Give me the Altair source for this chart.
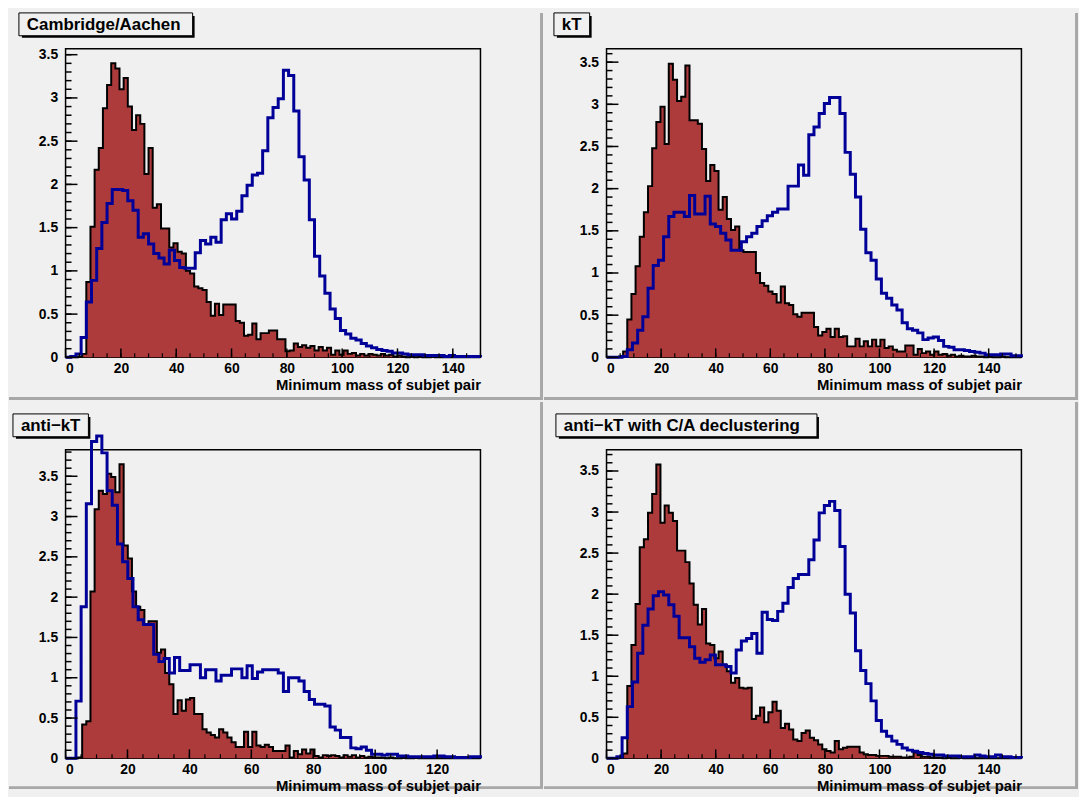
import altair as alt
import pandas as pd

# ---------------- data ----------------
titles = ["Cambridge/Aachen", "kT", "anti\u2212kT", "anti\u2212kT with C/A declustering"]
x_title = "Minimum mass of subjet pair"
x_max = [150, 152, 134, 152]
y_max = [3.57, 3.66, 3.83, 3.76]
x_major = [[0, 20, 40, 60, 80, 100, 120, 140],
           [0, 20, 40, 60, 80, 100, 120, 140],
           [0, 20, 40, 60, 80, 100, 120],
           [0, 20, 40, 60, 80, 100, 120, 140]]
y_major = [0, 0.5, 1, 1.5, 2, 2.5, 3, 3.5]

# background (red, 100 bins) and signal (blue, 80 bins) per panel
bkg_ca = [0, 0, 0, 0.01, 0.04, 0.87, 1.51, 2.17, 2.42, 2.88,
          3.15, 3.40, 3.34, 3.10, 3.23, 2.90, 2.63, 2.80, 2.70, 2.12,
          2.42, 1.73, 1.77, 1.49, 1.49, 1.27, 1.32, 1.22, 1.20, 1.00,
          0.97, 0.82, 0.80, 0.78, 0.64, 0.48, 0.62, 0.49, 0.61, 0.61,
          0.61, 0.42, 0.40, 0.25, 0.26, 0.39, 0.21, 0.28, 0.28, 0.31,
          0.31, 0.21, 0.21, 0.07, 0.08, 0.16, 0.12, 0.14, 0.11, 0.13,
          0.08, 0.12, 0.08, 0.11, 0.03, 0.08, 0.03, 0.08, 0.04, 0.05,
          0.02, 0.04, 0.02, 0.04, 0.03, 0.02, 0.04, 0.02, 0.03, 0.01,
          0.02, 0.01, 0, 0.01, 0, 0.01, 0, 0, 0.01, 0,
          0, 0, 0, 0, 0, 0, 0, 0, 0, 0]
sig_ca = [0, 0.01, 0.04, 0.23, 0.64, 0.89, 1.26, 1.56, 1.78, 1.94,
          1.94, 1.93, 1.81, 1.70, 1.39, 1.43, 1.31, 1.20, 1.15, 1.08,
          1.24, 1.12, 1.04, 1.03, 1.03, 1.21, 1.35, 1.31, 1.39, 1.33,
          1.59, 1.66, 1.60, 1.69, 1.87, 1.99, 2.11, 2.13, 2.39, 2.77,
          2.89, 2.99, 3.32, 3.26, 2.85, 2.32, 2.05, 1.59, 1.17, 0.94,
          0.74, 0.56, 0.45, 0.31, 0.27, 0.22, 0.20, 0.16, 0.13, 0.11,
          0.09, 0.08, 0.07, 0.05, 0.05, 0.04, 0.03, 0.03, 0.03, 0.02,
          0.02, 0.02, 0.02, 0.01, 0.02, 0.01, 0.01, 0.01, 0.01, 0.01]

bkg_kt = [0, 0, 0, 0.01, 0.07, 0.45, 0.75, 1.08, 1.43, 1.72,
          2.03, 2.48, 2.79, 2.97, 2.53, 3.48, 3.29, 3.04, 3.09, 3.46,
          2.81, 2.81, 2.77, 2.47, 2.09, 2.28, 2.21, 1.75, 1.90, 1.64,
          1.51, 1.55, 1.27, 1.25, 1.25, 1.25, 1.00, 0.88, 0.85, 0.78,
          0.75, 0.65, 0.84, 0.64, 0.62, 0.51, 0.48, 0.53, 0.53, 0.53,
          0.36, 0.26, 0.30, 0.34, 0.24, 0.34, 0.24, 0.25, 0.13, 0.13,
          0.22, 0.13, 0.19, 0.13, 0.21, 0.13, 0.21, 0.11, 0.13, 0.09,
          0.07, 0.07, 0.14, 0.14, 0.03, 0.10, 0.05, 0.07, 0.03, 0.07,
          0.03, 0.04, 0.02, 0.03, 0.01, 0.02, 0.01, 0.01, 0.02, 0.01,
          0.01, 0, 0.01, 0, 0, 0.01, 0, 0, 0, 0]
sig_kt = [0, 0, 0, 0.01, 0.09, 0.17, 0.32, 0.48, 0.82, 1.09,
          1.15, 1.43, 1.67, 1.72, 1.72, 1.67, 1.92, 1.70, 1.70, 1.91,
          1.58, 1.55, 1.47, 1.39, 1.27, 1.27, 1.37, 1.43, 1.47, 1.55,
          1.62, 1.68, 1.72, 1.76, 1.76, 2.03, 2.03, 2.28, 2.16, 2.64,
          2.73, 2.89, 3.01, 3.08, 3.08, 2.89, 2.43, 2.17, 1.90, 1.52,
          1.24, 1.15, 0.93, 0.76, 0.70, 0.62, 0.56, 0.41, 0.34, 0.32,
          0.29, 0.21, 0.23, 0.24, 0.20, 0.13, 0.12, 0.09, 0.09, 0.08,
          0.07, 0.06, 0.05, 0.03, 0.03, 0.03, 0.04, 0.04, 0.02, 0.02]

bkg_akt = [0, 0, 0, 0.01, 0.42, 0.46, 2.07, 3.09, 3.32, 3.28,
           3.53, 3.49, 3.30, 3.65, 2.64, 2.48, 2.07, 1.88, 1.84, 1.66,
           1.70, 1.70, 1.31, 1.35, 1.06, 0.92, 0.55, 0.72, 0.59, 0.73,
           0.75, 0.55, 0.55, 0.36, 0.32, 0.29, 0.26, 0.36, 0.32, 0.26,
           0.20, 0.14, 0.14, 0.33, 0.14, 0.33, 0.16, 0.14, 0.17, 0.14,
           0.09, 0.09, 0.09, 0.16, 0.01, 0.09, 0.05, 0.11, 0.06, 0.11,
           0.03, 0.01, 0.04, 0.03, 0.04, 0.03, 0.01, 0.04, 0.02, 0.04,
           0.01, 0.03, 0.01, 0.02, 0.01, 0.01, 0.01, 0, 0.01, 0,
           0, 0.01, 0, 0, 0.01, 0, 0, 0, 0, 0,
           0, 0, 0, 0, 0, 0, 0, 0, 0, 0]
sig_akt = [0, 0, 0.71, 1.88, 3.16, 3.93, 4.00, 3.79, 3.32, 3.14,
           2.66, 2.44, 2.23, 1.88, 1.72, 1.66, 1.66, 1.29, 1.20, 1.24,
           1.06, 1.25, 1.09, 1.09, 1.16, 1.16, 1.00, 1.10, 1.10, 0.96,
           1.03, 1.03, 1.11, 1.11, 1.00, 1.15, 0.99, 1.07, 1.10, 1.10,
           1.10, 1.06, 0.83, 1.00, 1.00, 0.96, 0.83, 0.73, 0.67, 0.67,
           0.65, 0.39, 0.35, 0.26, 0.26, 0.13, 0.12, 0.14, 0.10, 0.05,
           0.05, 0.04, 0.05, 0.05, 0.03, 0.03, 0.02, 0.02, 0.02, 0.02,
           0.02, 0.03, 0.03, 0.02, 0.02, 0.01, 0.01, 0.01, 0.02, 0.02]

bkg_akt_ca = [0, 0, 0, 0.01, 0.06, 0.88, 1.38, 1.88, 2.57, 2.67,
              2.99, 3.22, 3.58, 2.87, 3.08, 2.99, 2.89, 2.53, 2.53, 2.39,
              2.13, 1.87, 1.63, 1.82, 1.40, 1.38, 1.22, 1.30, 1.14, 1.06,
              0.92, 0.98, 0.86, 0.85, 0.86, 0.48, 0.52, 0.62, 0.44, 0.56,
              0.69, 0.58, 0.37, 0.42, 0.35, 0.23, 0.21, 0.31, 0.34, 0.25,
              0.22, 0.17, 0.11, 0.09, 0.07, 0.21, 0.11, 0.13, 0.14, 0.14,
              0.14, 0.07, 0.05, 0.04, 0.04, 0.03, 0.03, 0.03, 0.02, 0.02,
              0.02, 0.01, 0.01, 0.02, 0.07, 0.04, 0.02, 0.02, 0.01, 0.01,
              0.01, 0, 0.01, 0, 0, 0.01, 0, 0, 0, 0,
              0, 0, 0, 0, 0, 0, 0, 0, 0, 0]
sig_akt_ca = [0, 0, 0.02, 0.25, 0.63, 0.93, 1.28, 1.62, 1.82, 1.98,
              2.03, 1.99, 1.87, 1.73, 1.47, 1.47, 1.36, 1.22, 1.17, 1.20,
              1.26, 1.14, 1.14, 1.12, 1.04, 1.32, 1.43, 1.46, 1.52, 1.28,
              1.78, 1.69, 1.68, 1.79, 1.89, 2.08, 2.19, 2.24, 2.24, 2.42,
              2.66, 2.99, 3.08, 3.13, 3.02, 2.58, 2.00, 1.77, 1.31, 1.07,
              0.91, 0.70, 0.46, 0.33, 0.27, 0.21, 0.17, 0.125, 0.10, 0.085,
              0.07, 0.06, 0.05, 0.04, 0.04, 0.03, 0.03, 0.03, 0.02, 0.02,
              0.02, 0.04, 0.03, 0.02, 0.02, 0.04, 0.02, 0.02, 0.01, 0.01]

bkg_all = [bkg_ca, bkg_kt, bkg_akt, bkg_akt_ca]
sig_all = [sig_ca, sig_kt, sig_akt, sig_akt_ca]

# ---------------- styling ----------------
BG = "#f0f0f0"
RED = "#ae3b3b"
BLUE = "#000099"
FONT = "Liberation Sans"
W, H = 418, 311
box_x = [-47, -53, -53, -51]
box_w = [175, 36, 76, 263]


def step_df(vals, xmax, closed):
    n = len(vals)
    w = xmax / n
    rows = [{"x": 0.0, "y": 0.0, "o": 0}] if closed else []
    for i, v in enumerate(vals):
        rows.append({"x": i * w, "y": v, "o": i + 1})
    rows.append({"x": float(xmax), "y": vals[-1], "o": n + 1})
    if closed:
        rows.append({"x": float(xmax), "y": 0.0, "o": n + 2})
    return pd.DataFrame(rows)


def panel(i):
    xmax, ymax = x_max[i], y_max[i]
    xs = alt.Scale(domain=[0, xmax], nice=False, zero=False)
    ys = alt.Scale(domain=[0, ymax], nice=False, zero=False)

    xaxis = alt.Axis(values=x_major[i], title=x_title, titleAnchor="end",
                     titleFont=FONT, titleFontSize=15, titleFontWeight="bold",
                     titleColor="black", titlePadding=2,
                     labelFont=FONT, labelFontSize=14, labelFontWeight="bold",
                     labelColor="black", labelPadding=4, ticks=False,
                     domain=False, grid=False, format="d", zindex=1)
    yaxis = alt.Axis(values=y_major, title=None, format="~g",
                     labelFont=FONT, labelFontSize=14, labelFontWeight="bold",
                     labelColor="black", labelPadding=8, ticks=False,
                     domain=False, grid=False, zindex=1)
    X = lambda f: alt.X(f, scale=xs, axis=xaxis)
    Y = lambda f: alt.Y(f, scale=ys, axis=yaxis)

    area = alt.Chart(step_df(bkg_all[i], xmax, False)).mark_area(
        interpolate="step-after", color=RED, opacity=1, strokeWidth=0).encode(
        x=X("x:Q"), y=Y("y:Q"))
    outline = alt.Chart(step_df(bkg_all[i], xmax, True)).mark_line(
        interpolate="step-after", color="black", strokeWidth=2).encode(
        x=X("x:Q"), y=Y("y:Q"), order="o:Q")
    sig = alt.Chart(step_df(sig_all[i], xmax, True)).mark_line(
        interpolate="step-after", color=BLUE, strokeWidth=3).encode(
        x=X("x:Q"), y=Y("y:Q"), order="o:Q")

    # inward tick marks
    ymaj = pd.DataFrame({"x": [0.0] * len(y_major), "y": y_major})
    yminv = [k / 10 for k in range(0, int(ymax * 10) + 1)]
    ymin = pd.DataFrame({"x": [0.0] * len(yminv), "y": yminv})
    xmaj = pd.DataFrame({"x": x_major[i], "y": [0.0] * len(x_major[i])})
    xminv = [k * 5 for k in range(0, int(xmax // 5) + 1)]
    xmin = pd.DataFrame({"x": xminv, "y": [0.0] * len(xminv)})
    ytk1 = alt.Chart(ymaj).mark_rule(color="black", strokeWidth=1.5).encode(
        y=Y("y:Q"), x=alt.value(0), x2=alt.value(12))
    ytk2 = alt.Chart(ymin).mark_rule(color="black", strokeWidth=1.5).encode(
        y=Y("y:Q"), x=alt.value(0), x2=alt.value(6))
    xtk1 = alt.Chart(xmaj).mark_rule(color="black", strokeWidth=1.5).encode(
        x=X("x:Q"), y=alt.value(H), y2=alt.value(H - 9))
    xtk2 = alt.Chart(xmin).mark_rule(color="black", strokeWidth=1.2).encode(
        x=X("x:Q"), y=alt.value(H), y2=alt.value(H - 4))

    # pad bevels and title box
    padl = -57 if i % 2 == 0 else -63
    padt = -36 if i < 2 else -48
    dec = pd.DataFrame({"t": [titles[i]]})
    bev_b = alt.Chart(dec).mark_rect(fill="#a8a8a8").encode(
        x=alt.value(padl), x2=alt.value(padl + 538), y=alt.value(padt + 387), y2=alt.value(padt + 390))
    bev_r = alt.Chart(dec).mark_rect(fill="#a8a8a8").encode(
        x=alt.value(padl + 535), x2=alt.value(padl + 538), y=alt.value(padt), y2=alt.value(padt + 390))
    bx = box_x[i]
    by = -36
    shadow = alt.Chart(dec).mark_rect(fill="black").encode(
        x=alt.value(bx + 3), x2=alt.value(bx + box_w[i] + 2), y=alt.value(by + 3), y2=alt.value(by + 25))
    box = alt.Chart(dec).mark_rect(fill=BG, stroke="black", strokeWidth=1).encode(
        x=alt.value(bx), x2=alt.value(bx + box_w[i]), y=alt.value(by), y2=alt.value(by + 23))
    txt = alt.Chart(dec).mark_text(align="left", baseline="middle", font=FONT,
                                   fontSize=17, fontWeight="bold", color="black").encode(
        x=alt.value(bx + 8), y=alt.value(by + 12), text="t:N")

    return alt.layer(bev_b, bev_r, area, outline, sig, ytk1, ytk2, xtk1, xtk2,
                     shadow, box, txt).properties(width=W, height=H)


chart = alt.concat(panel(0), panel(1), panel(2), panel(3), columns=2,
                   spacing={"row": 93, "column": 127}, bounds="flush").properties(
    padding=0, background=BG
).configure_view(stroke="black", strokeWidth=1.5, fill=BG)

chart.save("out.html", embed_options={"renderer": "svg", "actions": False})
